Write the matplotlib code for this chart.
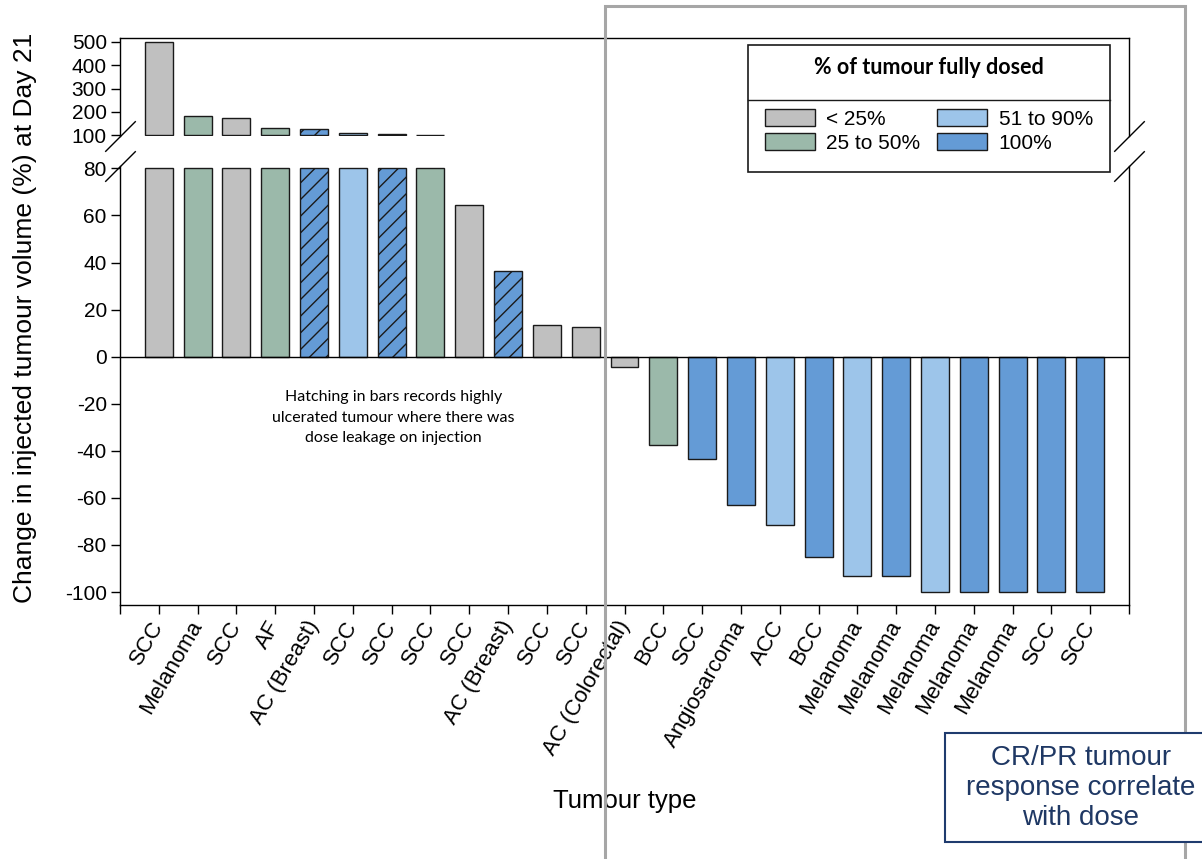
import matplotlib
matplotlib.use('Agg')
import matplotlib.pyplot as plt
from matplotlib.patches import Patch, Rectangle
from matplotlib.lines import Line2D
import numpy as np

# 数据：每个肿瘤的类型、第21天体积变化(%)、完全给药比例分组、是否有剂量泄漏（阴影）
tumour_types = ['SCC', 'Melanoma', 'SCC', 'AF', 'AC (Breast)', 'SCC', 'SCC', 'SCC', 'SCC',
                'AC (Breast)', 'SCC', 'SCC', 'AC (Colorectal)', 'BCC', 'SCC', 'Angiosarcoma',
                'ACC', 'BCC', 'Melanoma', 'Melanoma', 'Melanoma', 'Melanoma', 'Melanoma',
                'SCC', 'SCC']
change_pct = [500, 184, 172, 130, 125, 110, 106, 102, 64.4, 36.5, 13.5, 12.8,
              -4.2, -37.7, -43.5, -63, -71.6, -85, -93, -93.2, -100, -100, -100, -100, -100]
dose_group = ['< 25%', '25 to 50%', '< 25%', '25 to 50%', '100%', '51 to 90%', '100%',
              '25 to 50%', '< 25%', '100%', '< 25%', '< 25%', '< 25%', '25 to 50%', '100%',
              '100%', '51 to 90%', '100%', '51 to 90%', '100%', '51 to 90%', '100%', '100%',
              '100%', '100%']
leakage = [False, False, False, False, True, False, True, False, False, True, False, False,
           False, False, False, False, False, False, False, False, False, False, False,
           False, False]

dose_labels = ['< 25%', '25 to 50%', '51 to 90%', '100%']
dose_colors = ['#c0c0c0', '#9bb9aa', '#9dc5ea', '#649bd6']

top_ticks = [100, 200, 300, 400, 500]
bot_ticks = [-100, -80, -60, -40, -20, 0, 20, 40, 60, 80]

plt.rcParams['font.family'] = ['Liberation Sans', 'DejaVu Sans']
plt.rcParams['axes.unicode_minus'] = False
plt.rcParams['hatch.linewidth'] = 1.0

W, H = 1202, 859
fig = plt.figure(figsize=(W / 100, H / 100), dpi=100)

# 断轴：上面 100-500，下面 -100-80
ax_top = fig.add_axes([120 / W, 1 - 136 / H, 1009 / W, 98 / H])
ax_bot = fig.add_axes([120 / W, 1 - 605 / H, 1009 / W, 439 / H])

x = np.arange(1, len(tumour_types) + 1)
vals = np.array(change_pct, dtype=float)
colors = [dose_colors[dose_labels.index(g)] for g in dose_group]
bar_kw = dict(width=0.72, edgecolor='#1a1a1a', linewidth=1.0)

bars = ax_bot.bar(x, np.minimum(vals, 80), color=colors, **bar_kw)
for b, h in zip(bars, leakage):
    if h:
        b.set_hatch('//')

mask = vals > 100
top_bars = ax_top.bar(x[mask], vals[mask] - 100, bottom=100,
                      color=[c for c, m in zip(colors, mask) if m], **bar_kw)
for b, h in zip(top_bars, [l for l, m in zip(leakage, mask) if m]):
    if h:
        b.set_hatch('//')

ax_bot.axhline(0, color='black', lw=1.0, zorder=1)

for ax in (ax_top, ax_bot):
    ax.set_xlim(0, 26)
    for s in ax.spines.values():
        s.set_linewidth(1.0)
    ax.tick_params(axis='y', direction='out', length=6.5, width=1.0, labelsize=15, pad=3)

ax_top.set_ylim(96, 517)
ax_top.set_yticks(top_ticks)
ax_top.spines['bottom'].set_visible(False)
ax_top.tick_params(axis='x', bottom=False, labelbottom=False)

ax_bot.set_ylim(-105.5, 81)
ax_bot.set_yticks(bot_ticks)
ax_bot.spines['top'].set_visible(False)
ax_bot.set_xticks(range(0, 27))
ax_bot.set_xticklabels([''] + tumour_types + [''], rotation=60, ha='right',
                       va='center', rotation_mode='anchor', fontsize=16)
ax_bot.tick_params(axis='x', direction='out', length=6.5, width=1.0, pad=6)

ax_bot.set_xlabel('Tumour type', fontsize=18.5)
ax_bot.xaxis.set_label_coords(0.5, -0.42)

fig.text(25 / W, 1 - 318 / H, 'Change in injected tumour volume (%) at Day 21',
         rotation=90, ha='center', va='center', fontsize=19)

# 断轴斜线
kw = dict(marker=[(-1, -1), (1, 1)], markersize=22, linestyle='none',
          color='k', mec='k', mew=1.0, clip_on=False)
ax_top.plot([0, 1], [0, 0], transform=ax_top.transAxes, **kw)
ax_bot.plot([0, 1], [1, 1], transform=ax_bot.transAxes, **kw)

ax_bot.text(7.05, -26, 'Hatching in bars records highly\nulcerated tumour where there was\n'
            'dose leakage on injection', ha='center', va='center', fontsize=11.5,
            family=['Lato', 'DejaVu Sans'], linespacing=1.6)

# 图例框
fig.add_artist(Rectangle((748 / W, 1 - 172 / H), 362 / W, 127 / H, transform=fig.transFigure,
                         fc='white', ec='#1a1a1a', lw=1.2, zorder=3))
fig.add_artist(Line2D([748 / W, 1110 / W], [1 - 100 / H, 1 - 100 / H],
                      transform=fig.transFigure, color='#1a1a1a', lw=1.0, zorder=4))
fig.text(929 / W, 1 - 68 / H, '% of tumour fully dosed', ha='center', va='center',
         fontsize=15.5, fontweight='bold', family=['Lato', 'DejaVu Sans'], zorder=4)
handles = [Patch(facecolor=c, edgecolor='#1a1a1a', lw=1.0) for c in dose_colors]
leg = fig.legend(handles, dose_labels, ncol=2, loc='center',
                 bbox_to_anchor=(929 / W, 1 - 131 / H), frameon=False, fontsize=15,
                 handlelength=2.4, handleheight=0.85, handletextpad=0.55,
                 columnspacing=0.8, labelspacing=0.2, borderpad=0)
leg.set_zorder(5)

# 灰色框和右下角注释框
fig.add_artist(Rectangle((605 / W, -0.05), 580 / W, 1.05 - 6 / H, transform=fig.transFigure,
                         fill=False, ec='#a6a6a6', lw=2.2, zorder=10))
fig.add_artist(Rectangle((945 / W, 1 - 842 / H), 0.3, 109 / H, transform=fig.transFigure,
                         fc='white', ec='#1f3b6e', lw=1.5, zorder=11))
fig.text(1081 / W, 1 - 788 / H, 'CR/PR tumour\nresponse correlate\nwith dose', ha='center',
         va='center', fontsize=20, color='#1f3864', zorder=12)

plt.savefig('out.png', dpi=100)
plt.close()
